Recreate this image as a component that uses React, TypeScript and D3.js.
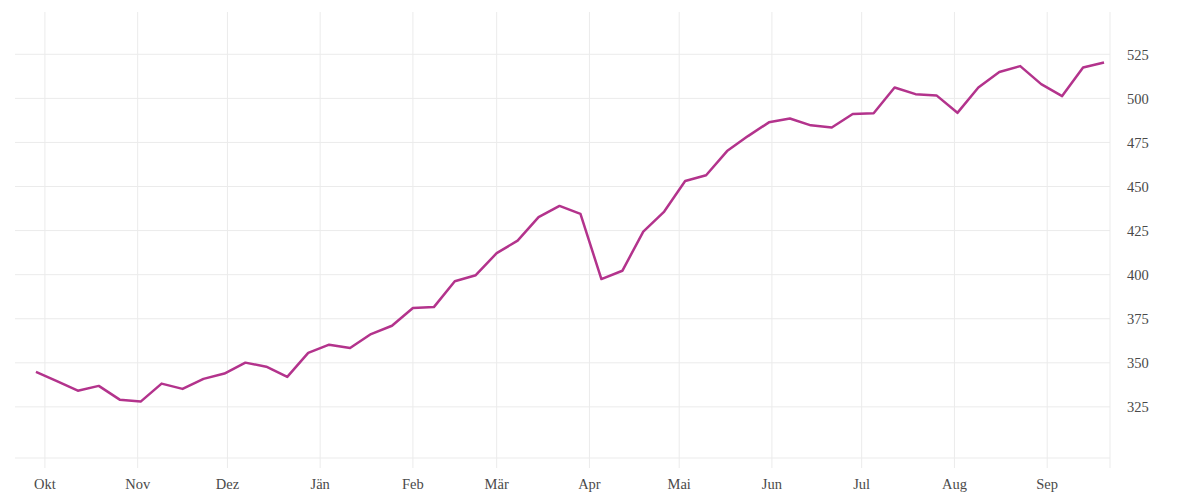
import React from "react";
import * as d3 from "d3";

// weekly values, Sep 2018 – Sep 2019
const weeks = [
  "2018-09-28", "2018-10-05", "2018-10-12", "2018-10-19", "2018-10-26",
  "2018-11-02", "2018-11-09", "2018-11-16", "2018-11-23", "2018-11-30",
  "2018-12-07", "2018-12-14", "2018-12-21", "2018-12-28",
  "2019-01-04", "2019-01-11", "2019-01-18", "2019-01-25",
  "2019-02-01", "2019-02-08", "2019-02-15", "2019-02-22",
  "2019-03-01", "2019-03-08", "2019-03-15", "2019-03-22", "2019-03-29",
  "2019-04-05", "2019-04-12", "2019-04-19", "2019-04-26",
  "2019-05-03", "2019-05-10", "2019-05-17", "2019-05-24", "2019-05-31",
  "2019-06-07", "2019-06-14", "2019-06-21", "2019-06-28",
  "2019-07-05", "2019-07-12", "2019-07-19", "2019-07-26",
  "2019-08-02", "2019-08-09", "2019-08-16", "2019-08-23", "2019-08-30",
  "2019-09-06", "2019-09-13", "2019-09-20",
];

const values = [
  344.8, 339.6, 334.2, 336.9, 329.1, 328.0, 338.2, 335.2, 340.9, 343.9,
  350.1, 347.8, 342.0, 355.6, 360.3, 358.4, 366.3, 371.0, 381.1, 381.6,
  396.3, 399.7, 412.2, 419.3, 432.6, 439.0, 434.5, 397.5, 402.2, 424.4,
  435.8, 453.1, 456.4, 470.1, 478.6, 486.4, 488.6, 484.7, 483.5, 491.1,
  491.6, 506.2, 502.4, 501.7, 491.8, 506.2, 515.0, 518.3, 508.1, 501.3,
  517.5, 520.4,
];

const monthTicks = [
  "2018-10-01", "2018-11-01", "2018-12-01", "2019-01-01", "2019-02-01",
  "2019-03-01", "2019-04-01", "2019-05-01", "2019-06-01", "2019-07-01",
  "2019-08-01", "2019-09-01",
];
const monthLabels = [
  "Okt", "Nov", "Dez", "Jän", "Feb", "Mär", "Apr", "Mai", "Jun", "Jul", "Aug", "Sep",
];
const yTicks = [325, 350, 375, 400, 425, 450, 475, 500, 525];

const xDomain = ["2018-09-21", "2019-09-22"];
const yDomain = [296, 549];

const parse = d3.timeParse("%Y-%m-%d");

export default function App() {
  const width = 1200;
  const height = 500;
  const left = 15;
  const right = 1110;
  const top = 12;
  const bottom = 458;

  const x = d3
    .scaleTime()
    .domain(xDomain.map((d) => parse(d)!))
    .range([left, right]);
  const y = d3.scaleLinear().domain(yDomain).range([bottom, top]);

  const data = weeks.map((w, i) => ({ date: parse(w)!, value: values[i] }));
  const line = d3
    .line<{ date: Date; value: number }>()
    .x((d) => x(d.date))
    .y((d) => y(d.value));

  const grid = "#ebebeb";
  const font = "'Liberation Serif', serif";

  return (
    <div style={{ position: "absolute", left: 0, top: 0 }}>
      <svg width={width} height={height} style={{ display: "block" }}>
        <rect width={width} height={height} fill="white" />
        {/* horizontal grid */}
        {yTicks.map((t) => (
          <line key={t} x1={left} x2={right} y1={y(t)} y2={y(t)} stroke={grid} strokeWidth={1} />
        ))}
        <line x1={left} x2={right} y1={bottom} y2={bottom} stroke={grid} strokeWidth={1} />
        {/* vertical grid */}
        {monthTicks.map((m) => (
          <line key={m} x1={x(parse(m)!)} x2={x(parse(m)!)} y1={top} y2={bottom + 10} stroke={grid} strokeWidth={1} />
        ))}
        <line x1={right} x2={right} y1={top} y2={bottom + 10} stroke={grid} strokeWidth={1} />

        <path d={line(data) ?? ""} fill="none" stroke="#b3338c" strokeWidth={2.5} strokeLinejoin="round" />

        {/* y labels */}
        {yTicks.map((t) => (
          <text key={t} x={1127} y={y(t)} dy="0.38em" fontFamily={font} fontSize={14.5} fill="#4a4a4a">
            {t}
          </text>
        ))}
        {/* x labels */}
        {monthTicks.map((m, i) => (
          <text key={m} x={x(parse(m)!)} y={489} textAnchor="middle" fontFamily={font} fontSize={14.5} fill="#4a4a4a">
            {monthLabels[i]}
          </text>
        ))}
      </svg>
    </div>
  );
}
